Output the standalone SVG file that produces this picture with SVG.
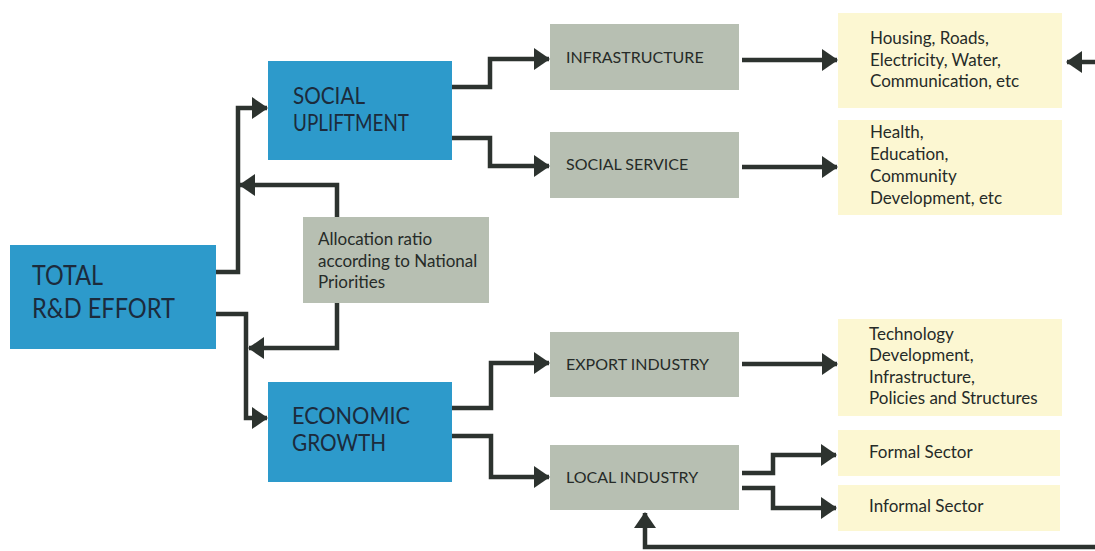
<svg xmlns="http://www.w3.org/2000/svg" width="1095" height="551" viewBox="0 0 1095 551">
  <style>
    .blue { fill: #2d9acb; }
    .grey { fill: #b7bfb2; }
    .pale { fill: #fcf7d2; }
    .big { font-family: "Lato", "Liberation Sans", sans-serif; font-size: 27px; fill: #1c2b3c; }
    .mid { font-family: "Lato", "Liberation Sans", sans-serif; font-size: 23px; fill: #1c2b3c; }
    .lbl { font-family: "Lato", "Liberation Sans", sans-serif; font-size: 16px; fill: #262b28; }
    .txt { font-family: "Lato", "Liberation Sans", sans-serif; font-size: 17px; fill: #262b28; }
    .wire { fill: none; stroke: #2d332f; stroke-width: 4.5; stroke-linejoin: miter; }
  </style>
  <defs>
    <marker id="head" viewBox="0 0 16 22" refX="15" refY="11" markerWidth="16" markerHeight="22" markerUnits="userSpaceOnUse" orient="auto">
      <path d="M0,0 L16,11 L0,22 Z" fill="#2d332f"/>
    </marker>
  </defs>
  <rect width="1095" height="551" fill="#ffffff"/>

  <!-- connectors -->
  <g id="connectors" class="wire" marker-end="url(#head)">
    <path d="M216,272 H238 V108 H267"/>
    <path d="M216,314 H246 V418 H267"/>
    <path d="M337,217 V185 H240"/>
    <path d="M337,303 V348 H249"/>
    <path d="M452,87 H490 V59 H549"/>
    <path d="M452,138 H490 V166 H549"/>
    <path d="M452,408 H491 V363 H549"/>
    <path d="M452,436 H491 V477 H549"/>
    <path d="M742,60 H837"/>
    <path d="M742,167 H837"/>
    <path d="M742,364 H837"/>
    <path d="M742,473 H773 V455 H836"/>
    <path d="M742,488 H773 V508 H836"/>
    <path d="M1095,62 H1067"/>
    <path d="M1095,547 H645 V513"/>
  </g>

  <g id="total">
    <rect class="blue" x="10" y="245" width="206" height="104"/>
    <text class="big" x="32" y="285" textLength="71" lengthAdjust="spacingAndGlyphs">TOTAL</text>
    <text class="big" x="32" y="318" textLength="143" lengthAdjust="spacingAndGlyphs">R&amp;D EFFORT</text>
  </g>
  <g id="social">
    <rect class="blue" x="268" y="61" width="184" height="99"/>
    <text class="mid" x="293" y="104" textLength="72" lengthAdjust="spacingAndGlyphs">SOCIAL</text>
    <text class="mid" x="293" y="131" textLength="116" lengthAdjust="spacingAndGlyphs">UPLIFTMENT</text>
  </g>
  <g id="economic">
    <rect class="blue" x="268" y="382" width="184" height="100"/>
    <text class="mid" x="292" y="424" textLength="118" lengthAdjust="spacingAndGlyphs">ECONOMIC</text>
    <text class="mid" x="292" y="451" textLength="94" lengthAdjust="spacingAndGlyphs">GROWTH</text>
  </g>
  <g id="allocation">
    <rect class="grey" x="303" y="217" width="186" height="86"/>
    <text class="txt" x="318" y="245">Allocation ratio</text>
    <text class="txt" x="318" y="267">according to National</text>
    <text class="txt" x="318" y="288">Priorities</text>
  </g>
  <g id="infrastructure">
    <rect class="grey" x="550" y="24" width="189" height="66"/>
    <text class="lbl" x="566" y="63">INFRASTRUCTURE</text>
  </g>
  <g id="social-service">
    <rect class="grey" x="550" y="132" width="189" height="66"/>
    <text class="lbl" x="566" y="170">SOCIAL SERVICE</text>
  </g>
  <g id="export-industry">
    <rect class="grey" x="550" y="332" width="189" height="65"/>
    <text class="lbl" x="566" y="370">EXPORT INDUSTRY</text>
  </g>
  <g id="local-industry">
    <rect class="grey" x="550" y="445" width="189" height="65"/>
    <text class="lbl" x="566" y="483">LOCAL INDUSTRY</text>
  </g>
  <g id="housing">
    <rect class="pale" x="838" y="13" width="224" height="95"/>
    <text class="txt" x="870" y="44">Housing, Roads,</text>
    <text class="txt" x="870" y="66">Electricity, Water,</text>
    <text class="txt" x="870" y="87">Communication, etc</text>
  </g>
  <g id="health">
    <rect class="pale" x="838" y="120" width="224" height="95"/>
    <text class="txt" x="870" y="138">Health,</text>
    <text class="txt" x="870" y="160">Education,</text>
    <text class="txt" x="870" y="182">Community</text>
    <text class="txt" x="870" y="204">Development, etc</text>
  </g>
  <g id="technology">
    <rect class="pale" x="838" y="319" width="224" height="97"/>
    <text class="txt" x="869" y="340">Technology</text>
    <text class="txt" x="869" y="361">Development,</text>
    <text class="txt" x="869" y="383">Infrastructure,</text>
    <text class="txt" x="869" y="404">Policies and Structures</text>
  </g>
  <g id="formal">
    <rect class="pale" x="838" y="430" width="222" height="46"/>
    <text class="txt" x="869" y="458">Formal Sector</text>
  </g>
  <g id="informal">
    <rect class="pale" x="838" y="485" width="222" height="46"/>
    <text class="txt" x="869" y="512">Informal Sector</text>
  </g>
</svg>
